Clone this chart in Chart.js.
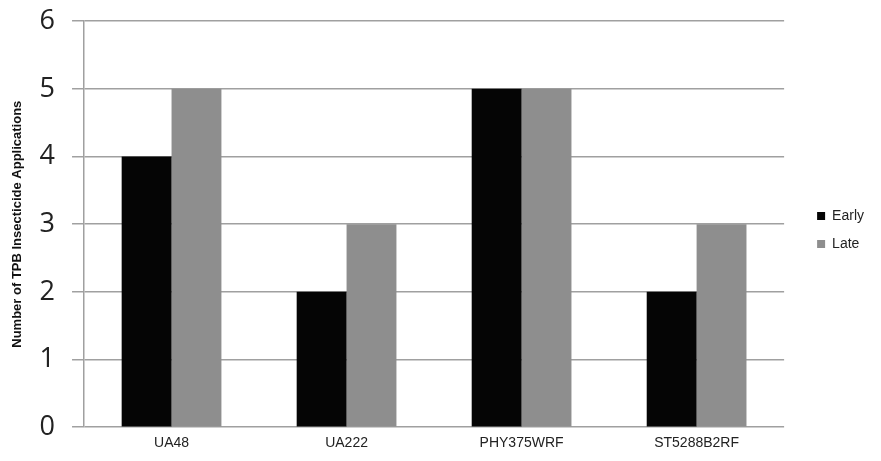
<!DOCTYPE html>
<html>
<head>
<meta charset="utf-8">
<script src="https://cdn.jsdelivr.net/npm/chart.js@4.4.0/dist/chart.umd.min.js"></script>
<style>
  html, body { margin: 0; padding: 0; background: #fff; }
  #wrap { width: 881px; height: 461px; }
</style>
</head>
<body>
<div id="wrap"><canvas id="myChart"></canvas></div>
<script>
// Data
////////////////////////////////////////////////
const varieties = ["UA48", "UA222", "PHY375WRF", "ST5288B2RF"];
const early = [4, 2, 5, 2];
const late = [5, 3, 5, 3];
const yTicks = [0, 1, 2, 3, 4, 5, 6];

const data = {
    labels: varieties,
    datasets: [{
        label: 'Early',
        data: early,
        backgroundColor: '#050505',
        borderWidth: 0,
        categoryPercentage: 0.57,
        barPercentage: 1.0
    }, {
        label: 'Late',
        data: late,
        backgroundColor: '#8e8e8e',
        borderWidth: 0,
        categoryPercentage: 0.57,
        barPercentage: 1.0
    }]
};

// legend sits a bit further right of the plot than Chart.js puts it
const legendNudge = {
    id: 'legendNudge',
    afterLayout(chart) {
        chart.legend.left += 19;
        chart.legend.right += 19;
    }
};

const config = {
    type: 'bar',
    data: data,
    plugins: [legendNudge],
    options: {
        responsive: true,
        maintainAspectRatio: false,
        animation: false,
        layout: { padding: { left: 10, top: 8, right: 26, bottom: 9 } },
        plugins: {
            tooltip: { enabled: false },
            legend: {
                position: 'right',
                labels: {
                    boxWidth: 8,
                    boxHeight: 8,
                    padding: 14,
                    color: '#222',
                    font: { family: 'Liberation Sans, Arial', size: 14 }
                }
            }
        },
        scales: {
            x: {
                grid: { display: false },
                border: { display: false },
                ticks: {
                    color: '#222',
                    padding: 0,
                    font: { family: 'Liberation Sans, Arial', size: 14 }
                }
            },
            y: {
                min: 0,
                max: 6,
                afterBuildTicks: axis => { axis.ticks = yTicks.map(v => ({ value: v })); },
                // tick padding also pads top/bottom and widens the axis, take that back off
                afterFit: axis => {
                    axis.paddingTop = Math.max(axis.paddingTop - 12, 0);
                    axis.paddingBottom = Math.max(axis.paddingBottom - 12, 0);
                    axis.width -= 11;
                },
                grid: { color: '#a0a0a0', lineWidth: 1.5, tickLength: 12 },
                border: { color: '#a0a0a0', width: 1.5 },
                ticks: {
                    color: '#222',
                    padding: 17,
                    font: { family: 'Open Sans', size: 27 }
                },
                title: {
                    display: true,
                    text: 'Number of TPB Insecticide Applications',
                    color: '#111',
                    padding: { top: 0, bottom: 8 },
                    font: { family: 'Liberation Sans, Arial', size: 13, weight: 'bold' }
                }
            }
        }
    }
};

const myChart = new Chart(document.getElementById('myChart'), config);
</script>
</body>
</html>
